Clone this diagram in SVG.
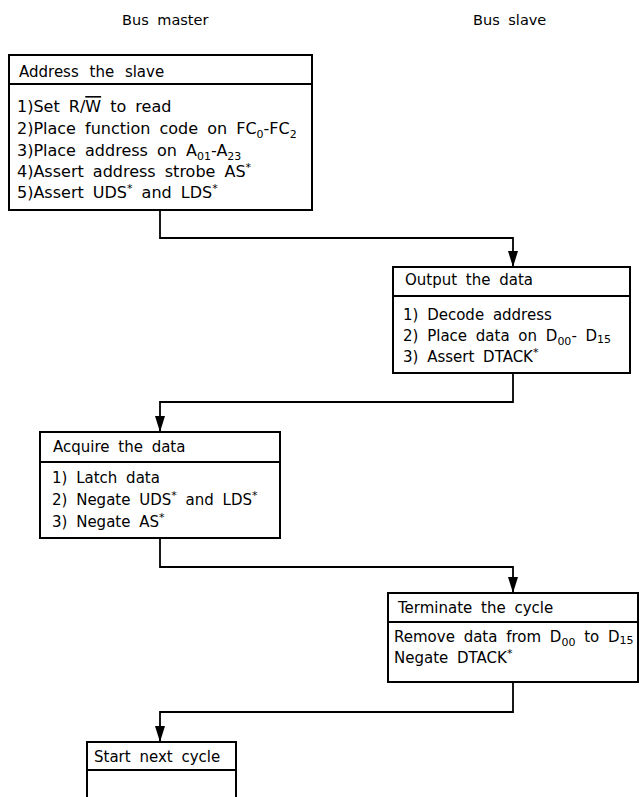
<svg xmlns="http://www.w3.org/2000/svg" width="643" height="797" viewBox="0 0 643 797">
<style>
.bg{fill:#fff}
.box{fill:#fff;stroke:#000;stroke-width:2}
.sep{stroke:#000;stroke-width:2}
.t{font-family:"DejaVu Sans","Liberation Sans",sans-serif;font-size:15px;fill:#000;word-spacing:4px}
.big{font-size:16px}
.ttl{word-spacing:6px}
.h{font-family:"DejaVu Sans","Liberation Sans",sans-serif;font-size:14.5px;fill:#000;word-spacing:4px}
.sub{font-size:11px}
.sup{font-size:11px}
.ov{text-decoration:overline}
.conn{fill:none;stroke:#000;stroke-width:1.8;marker-end:url(#arr)}
</style>
<defs>
<marker id="arr" markerUnits="userSpaceOnUse" markerWidth="16" markerHeight="10" viewBox="0 0 16 10" refX="16" refY="5" orient="auto">
<path d="M0,0 L16,5 L0,10 Z" fill="#000"/>
</marker>
</defs>
<rect class="bg" x="0" y="0" width="643" height="797"/>
<text class="h" x="122" y="25">Bus master</text>
<text class="h" x="473" y="25">Bus slave</text>

<g id="connectors">
<path class="conn" d="M160,210 V238 H513 V267"/>
<path class="conn" d="M513,373 V402 H160 V432"/>
<path class="conn" d="M160,538 V567 H513 V593"/>
<path class="conn" d="M513,682 V712 H160 V742"/>
</g>

<g id="address-the-slave">
<rect class="box" x="9" y="55" width="303" height="155"/>
<line class="sep" x1="9" y1="84" x2="312" y2="84"/>
<text class="t ttl" x="19" y="77">Address the slave</text>
<text class="t big" x="17" y="112">1)Set R/<tspan class="ov">W</tspan> to read</text>
<text class="t big" x="17" y="134">2)Place function code on FC<tspan class="sub" dy="4">0</tspan><tspan dy="-4">-FC</tspan><tspan class="sub" dy="4">2</tspan></text>
<text class="t big" x="17" y="156">3)Place address on A<tspan class="sub" dy="4">01</tspan><tspan dy="-4">-A</tspan><tspan class="sub" dy="4">23</tspan></text>
<text class="t big" x="17" y="177">4)Assert address strobe AS<tspan class="sup" dy="-6">*</tspan></text>
<text class="t big" x="17" y="198">5)Assert UDS<tspan class="sup" dy="-6">*</tspan><tspan dy="6"> and LDS</tspan><tspan class="sup" dy="-6">*</tspan></text>
</g>

<g id="output-the-data">
<rect class="box" x="393" y="267" width="237" height="106"/>
<line class="sep" x1="393" y1="296" x2="630" y2="296"/>
<text class="t" x="405" y="285">Output the data</text>
<text class="t" x="403" y="320">1) Decode  address</text>
<text class="t" x="403" y="341">2) Place data on D<tspan class="sub" dy="4">00</tspan><tspan dy="-4">- D</tspan><tspan class="sub" dy="2">15</tspan></text>
<text class="t" x="403" y="362">3) Assert DTACK<tspan class="sup" dy="-6">*</tspan></text>
</g>

<g id="acquire-the-data">
<rect class="box" x="40" y="432" width="240" height="106"/>
<line class="sep" x1="40" y1="462" x2="280" y2="462"/>
<text class="t" x="53" y="452">Acquire the data</text>
<text class="t" x="52" y="483">1) Latch data</text>
<text class="t" x="52" y="505">2) Negate UDS<tspan class="sup" dy="-6">*</tspan><tspan dy="6"> and LDS</tspan><tspan class="sup" dy="-6">*</tspan></text>
<text class="t" x="52" y="527">3) Negate AS<tspan class="sup" dy="-6">*</tspan></text>
</g>

<g id="terminate-the-cycle">
<rect class="box" x="388" y="593" width="250" height="89"/>
<line class="sep" x1="388" y1="622" x2="638" y2="622"/>
<text class="t" x="398" y="613">Terminate the cycle</text>
<text class="t" x="394" y="642">Remove data from D<tspan class="sub" dy="4">00</tspan><tspan dy="-4"> to D</tspan><tspan class="sub" dy="2">15</tspan></text>
<text class="t" x="394" y="663">Negate DTACK<tspan class="sup" dy="-6">*</tspan></text>
</g>

<g id="start-next-cycle">
<rect class="box" x="87" y="742" width="149" height="70"/>
<line class="sep" x1="87" y1="770" x2="236" y2="770"/>
<text class="t" x="94" y="762">Start next cycle</text>
</g>
</svg>
